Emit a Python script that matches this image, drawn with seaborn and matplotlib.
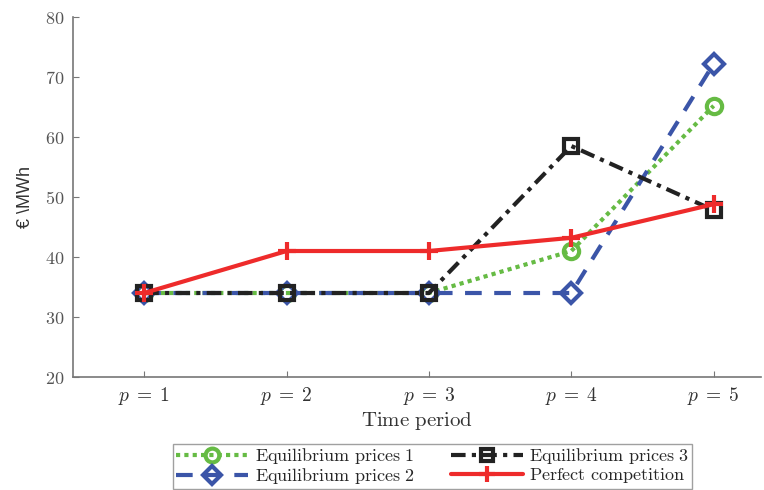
import matplotlib
matplotlib.use("Agg")
import matplotlib.pyplot as plt
import seaborn as sns
import pandas as pd

periods = [1, 2, 3, 4, 5]
tick_labels = ["$p\\;=\\;1$", "$p\\;=\\;2$", "$p\\;=\\;3$", "$p\\;=\\;4$", "$p\\;=\\;5$"]
eq1 = [34, 34, 34, 41, 65.2]
eq2 = [34, 34, 34, 34, 72.2]
eq3 = [34, 34, 34, 58.5, 47.8]
perfect = [34, 41, 41, 43.2, 48.8]
names = ["Equilibrium prices 1", "Equilibrium prices 2",
         "Equilibrium prices 3", "Perfect competition"]

sns.set_style("white")
plt.rcParams["mathtext.fontset"] = "cm"
plt.rcParams["font.family"] = ["DejaVu Serif"]

fig = plt.figure(figsize=(7.64, 4.90), dpi=100)
ax = fig.add_axes([0.0956, 0.2306, 0.9, 0.7347])

styles = [
    dict(color="#66BB44", ls=(0, (1, 1)), marker="o", ms=11, mew=3, mfc="none", lw=3),
    dict(color="#3B55A8", ls=(0, (4, 3)), marker="D", ms=10, mew=3, mfc="none", lw=3),
    dict(color="#222222", ls=(0, (3.5, 1.5, 1, 1.5)), marker="s", ms=10, mew=3, mfc="none", lw=3),
    dict(color="#EE2B2B", ls="-", marker="+", ms=13, mew=3, lw=3),
]
series = [eq1, eq2, eq3, perfect]
for name, vals, st in zip(names, series, styles):
    df = pd.DataFrame({"p": periods, "v": vals})
    sns.lineplot(data=df, x="p", y="v", ax=ax, color=st["color"], linestyle=st["ls"],
                 marker=st["marker"], markersize=st["ms"], markeredgewidth=st["mew"],
                 markerfacecolor=st.get("mfc", st["color"]), markeredgecolor=st["color"],
                 linewidth=st["lw"], label="$\\mathrm{" + name.replace(" ", "\\ ") + "}$")

ax.set_xlim(0.5, 5.33)
ax.set_ylim(20, 80)
ax.set_xticks(periods)
ax.set_xticklabels(tick_labels, fontsize=14, color="#333333")
yt = [20, 30, 40, 50, 60, 70, 80]
ax.set_yticks(yt)
ax.set_yticklabels(["$\\mathrm{%d}$" % v for v in yt], fontsize=13, color="#555555")
ax.set_xlabel("$\\mathrm{Time\\ period}$", fontsize=15, color="#333333", labelpad=2)
ax.set_ylabel("€ \\MWh", fontsize=13, family=["Liberation Sans", "DejaVu Sans"], color="#333333", labelpad=8)
for s in ["top", "right"]:
    ax.spines[s].set_visible(False)
for s in ["left", "bottom"]:
    ax.spines[s].set_color("#777777")
    ax.spines[s].set_linewidth(1.2)
ax.tick_params(direction="in", length=4, color="#777777", left=True, bottom=True, pad=6)

leg = ax.legend(loc="upper center", bbox_to_anchor=(0.523, -0.185), ncol=2, fontsize=13,
                handlelength=4.0, frameon=True, fancybox=False, edgecolor="#888888",
                borderpad=0.15, labelspacing=0.0, columnspacing=2.0, handletextpad=0.35,
                borderaxespad=0.0, markerscale=0.9)
leg.get_frame().set_linewidth(1.0)

fig.savefig("out.png", dpi=100)
